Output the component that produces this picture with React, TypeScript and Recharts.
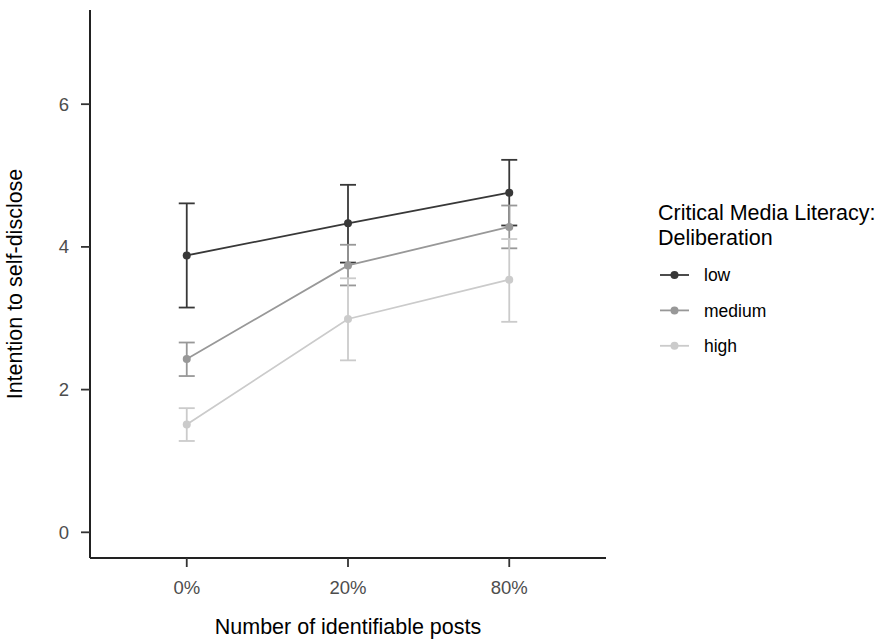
import React from 'react';
import { LineChart, Line, XAxis, YAxis, ErrorBar, Label } from 'recharts';

const categories = ['0%', '20%', '80%'];
const groups = ['low', 'medium', 'high'];
const colors = ['#383838', '#989898', '#cbcbcb'];

const lowMean = [3.88, 4.33, 4.76];
const lowLower = [3.15, 3.78, 4.3];
const lowUpper = [4.61, 4.87, 5.22];

const mediumMean = [2.43, 3.74, 4.28];
const mediumLower = [2.19, 3.46, 3.98];
const mediumUpper = [2.66, 4.03, 4.58];

const highMean = [1.51, 2.99, 3.54];
const highLower = [1.28, 2.41, 2.95];
const highUpper = [1.74, 3.56, 4.11];

const yTicks = [0, 2, 4, 6];

const legendTitle = ['Critical Media Literacy:', 'Deliberation'];
const xTitle = 'Number of identifiable posts';
const yTitle = 'Intention to self-disclose';

const FONT = '"Liberation Sans", Arial, Helvetica, sans-serif';

const seriesMeans = [lowMean, mediumMean, highMean];
const seriesLower = [lowLower, mediumLower, highLower];
const seriesUpper = [lowUpper, mediumUpper, highUpper];

const data = categories.map((c, i) => {
  const row: any = { x: i + 1, cat: c };
  groups.forEach((g, k) => {
    const m = seriesMeans[k][i];
    row[g] = m;
    row[g + 'Err'] = [m - seriesLower[k][i], seriesUpper[k][i] - m];
  });
  return row;
});

const YTitle = () => (
  <text
    x={21.7}
    y={284}
    transform="rotate(-90 21.7 284)"
    textAnchor="middle"
    fontFamily={FONT}
    fontSize={21.5}
    fill="#000"
  >
    {yTitle}
  </text>
);

export default function App() {
  return (
    <div style={{ position: 'absolute', left: 0, top: 0, width: 881, height: 640, background: '#fff' }}>
      <LineChart
        width={881}
        height={640}
        data={data}
        margin={{ top: 10, right: 275, bottom: 0, left: 0 }}
      >
        <XAxis
          dataKey="x"
          type="number"
          domain={[0.4, 3.6]}
          ticks={[1, 2, 3]}
          allowDataOverflow
          tickFormatter={(v: number) => categories[v - 1]}
          height={82}
          tickSize={9}
          tickMargin={14}
          axisLine={{ stroke: '#222', strokeWidth: 2 }}
          tickLine={{ stroke: '#333', strokeWidth: 1.8 }}
          tick={{ fill: '#4d4d4d', fontSize: 18.5, fontFamily: FONT }}
        >
          <Label
            value={xTitle}
            position="insideBottom"
            offset={6}
            style={{ fontSize: 21.5, fontFamily: FONT, fill: '#000' }}
          />
        </XAxis>
        <YAxis
          type="number"
          domain={[-0.36, 7.32]}
          ticks={yTicks}
          allowDataOverflow
          width={90}
          tickSize={9}
          tickMargin={12}
          axisLine={{ stroke: '#222', strokeWidth: 2 }}
          tickLine={{ stroke: '#333', strokeWidth: 1.8 }}
          tick={{ fill: '#4d4d4d', fontSize: 18.5, fontFamily: FONT }}
        >
          <Label content={() => <YTitle />} />
        </YAxis>
        {groups.map((g, k) => (
          <Line
            key={g}
            dataKey={g}
            stroke={colors[k]}
            strokeWidth={1.8}
            dot={{ r: 4, fill: colors[k], stroke: colors[k], strokeWidth: 0 }}
            activeDot={false}
            isAnimationActive={false}
          >
            <ErrorBar
              dataKey={g + 'Err'}
              direction="y"
              width={8}
              stroke={colors[k]}
              strokeWidth={1.8}
              isAnimationActive={false}
            />
          </Line>
        ))}
      </LineChart>
      <svg
        width={881}
        height={640}
        style={{ position: 'absolute', left: 0, top: 0, pointerEvents: 'none' }}
      >
        {legendTitle.map((t, i) => (
          <text key={t} x={658} y={220 + i * 25} fontFamily={FONT} fontSize={21.5} fill="#000">
            {t}
          </text>
        ))}
        {groups.map((g, k) => {
          const cy = 275 + k * 35.4;
          return (
            <g key={g}>
              <line x1={660} x2={689} y1={cy} y2={cy} stroke={colors[k]} strokeWidth={1.8} />
              <circle cx={674.5} cy={cy} r={4} fill={colors[k]} />
              <text x={704} y={cy + 6.2} fontFamily={FONT} fontSize={17.5} fill="#000">
                {g}
              </text>
            </g>
          );
        })}
      </svg>
    </div>
  );
}
